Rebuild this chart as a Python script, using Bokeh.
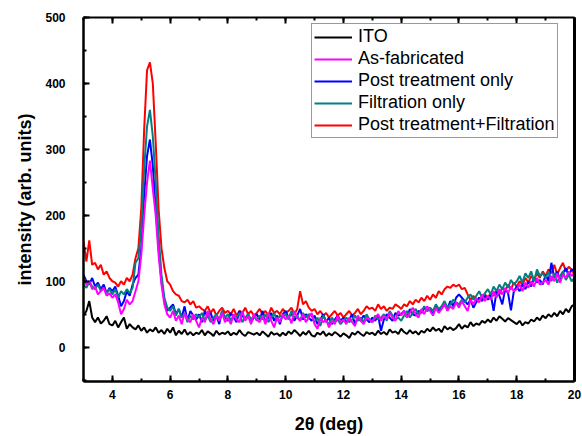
import numpy as np
from bokeh.plotting import figure
from bokeh.models import (Range1d, SingleIntervalTicker, LinearAxis, Legend, LegendItem)
from bokeh.embed import file_html
from bokeh.resources import INLINE

# 2-theta grid (deg), 0.1 deg step from 3.0 to 20.0
two_theta = np.round(np.arange(3.0, 20.0001, 0.1), 2)

ito = [
    48, 55, 70, 45, 38, 45, 36, 40, 47, 35,
    33, 40, 30, 38, 45, 28, 35, 30, 27, 33,
    25, 30, 22, 27, 24, 30, 22, 26, 20, 28,
    22, 30, 18, 25, 20, 27, 19, 23, 18, 22,
    20, 26, 18, 24, 21, 17, 25, 19, 22, 20,
    24, 18, 22, 19, 26, 20, 17, 23, 21, 19,
    22, 18, 24, 20, 16, 23, 19, 21, 17, 22,
    18, 24, 20, 26, 22, 17, 23, 19, 25, 18,
    16, 22, 19, 24, 17, 21, 18, 23, 20, 16,
    21, 18, 14, 22, 19, 24, 20, 17, 23, 20,
    22, 18, 25, 20, 23, 19, 27, 22, 24, 20,
    28, 23, 20, 26, 21, 24, 19, 25, 22, 28,
    24, 30, 25, 28, 23, 32, 27, 30, 26, 29,
    35, 28, 33, 30, 38, 32, 36, 34, 40, 37,
    42, 38, 45, 40, 47, 43, 39, 44, 41, 38,
    35, 40, 33, 38, 36, 42, 39, 45, 41, 48,
    44, 50, 46, 52, 47, 55, 50, 58, 53, 62,
    65,
]

as_fabricated = [
    105, 95, 100, 88, 92, 80, 85, 90, 78, 82,
    75, 80, 68, 50, 58, 72, 65, 70, 85, 100,
    140, 200, 250, 283, 240, 200, 140, 95, 65, 50,
    45, 55, 40, 48, 35, 52, 42, 38, 50, 40,
    30, 45, 38, 55, 42, 35, 48, 40, 52, 38,
    45, 35, 50, 42, 38, 55, 40, 47, 35, 50,
    42, 38, 48, 35, 52, 40, 30, 45, 38, 50,
    42, 48, 36, 55, 45, 40, 50, 38, 45, 52,
    35, 28, 45, 38, 42, 30, 40, 35, 48, 38,
    42, 35, 45, 38, 32, 48, 40, 35, 45, 42,
    38, 45, 50, 40, 48, 42, 52, 45, 40, 55,
    48, 55, 45, 52, 60, 50, 45, 58, 50, 62,
    55, 48, 60, 52, 58, 65, 55, 62, 58, 68,
    60, 70, 62, 55, 72, 65, 75, 68, 80, 70,
    78, 72, 85, 75, 88, 80, 90, 82, 92, 85,
    88, 95, 85, 98, 90, 100, 92, 105, 95, 98,
    102, 95, 108, 100, 112, 98, 110, 105, 115, 108,
    112,
]

post_treatment = [
    110, 100, 95, 105, 92, 98, 88, 95, 82, 90,
    85, 92, 78, 62, 70, 85, 78, 95, 105, 110,
    150, 230, 290, 315, 275, 210, 150, 100, 70, 55,
    60, 65, 50, 58, 45, 62, 40, 55, 48, 42,
    50, 38, 55, 45, 52, 40, 48, 35, 55, 45,
    40, 52, 45, 38, 55, 48, 42, 50, 38, 45,
    50, 42, 55, 38, 45, 52, 40, 48, 35, 50,
    55, 45, 52, 40, 48, 58, 42, 50, 45, 40,
    48, 35, 42, 50, 38, 45, 35, 42, 48, 40,
    45, 38, 42, 50, 35, 45, 40, 48, 42, 38,
    45, 40, 48, 25, 42, 50, 45, 40, 52, 48,
    50, 55, 45, 58, 50, 48, 55, 52, 60, 55,
    58, 50, 62, 55, 60, 65, 58, 70, 62, 75,
    80, 75, 70, 65, 72, 60, 68, 75, 70, 78,
    72, 80, 55, 85, 78, 65, 88, 82, 56, 85,
    92, 85, 95, 88, 100, 92, 105, 98, 102, 95,
    110, 100, 128, 105, 115, 100, 112, 120, 108, 118,
    115,
]

filtration = [
    95, 90, 100, 92, 88, 95, 85, 90, 82, 88,
    80, 88, 75, 85, 80, 88, 82, 90, 128, 135,
    180, 270, 335, 360, 320, 250, 170, 110, 75, 60,
    55, 62, 48, 58, 45, 52, 38, 48, 42, 50,
    45, 52, 40, 48, 38, 45, 50, 42, 55, 45,
    50, 40, 48, 45, 52, 38, 45, 50, 42, 48,
    40, 48, 42, 50, 38, 45, 52, 40, 48, 45,
    50, 42, 55, 45, 48, 40, 52, 45, 50, 48,
    38, 45, 32, 48, 40, 35, 45, 38, 42, 35,
    40, 45, 38, 42, 48, 40, 45, 38, 50, 42,
    38, 48, 42, 45, 50, 40, 55, 48, 42, 45,
    40, 48, 55, 45, 52, 58, 50, 55, 62, 55,
    60, 55, 65, 58, 62, 70, 60, 65, 72, 68,
    65, 72, 68, 75, 80, 72, 78, 85, 75, 82,
    88, 80, 92, 85, 95, 88, 98, 90, 102, 95,
    100, 108, 98, 112, 105, 115, 100, 118, 108, 112,
    105, 115, 100, 112, 98, 108, 115, 102, 110, 100,
    105,
]

post_filtration = [
    160, 130, 162, 125, 128, 118, 125, 110, 115, 105,
    100, 98, 92, 100, 95, 105, 100, 110, 135, 150,
    210, 330, 420, 432, 400, 310, 210, 150, 120, 100,
    95, 85, 80, 78, 70, 68, 72, 65, 70, 60,
    62, 58, 55, 62, 52, 58, 48, 55, 60, 52,
    55, 50, 58, 48, 55, 52, 60, 50, 55, 48,
    52, 58, 50, 55, 48, 60, 52, 55, 50, 58,
    52, 55, 60, 50, 58, 85, 65, 70, 60, 55,
    58, 50, 55, 48, 52, 45, 50, 55, 48, 52,
    45, 50, 55, 48, 52, 58, 50, 55, 62, 58,
    60, 55, 65, 58, 62, 55, 60, 58, 65, 62,
    58, 65, 62, 70, 65, 72, 68, 75, 70, 78,
    72, 80, 75, 85, 80, 88, 92, 90, 95, 92,
    95, 88, 90, 80, 72, 78, 70, 75, 72, 80,
    75, 82, 78, 85, 80, 90, 85, 95, 88, 98,
    92, 100, 95, 105, 98, 108, 102, 112, 105, 115,
    108, 118, 112, 125, 110, 120, 128, 115, 122, 118,
    110,
]

series_names = ["ITO", "As-fabricated", "Post treatment only",
                "Filtration only", "Post treatment+Filtration"]
series_colors = ["#000000", "#FF00FF", "#0000FF", "#008080", "#FF0000"]
series_data = [ito, as_fabricated, post_treatment, filtration, post_filtration]

x_ticks_interval = 2
y_ticks_interval = 100

FONT = "Liberation Sans"

p = figure(frame_width=491, frame_height=364,
           min_border_left=83, min_border_right=8,
           min_border_top=17, min_border_bottom=55,
           x_range=Range1d(3, 20), y_range=Range1d(-52, 500),
           output_backend="svg", toolbar_location=None,
           x_axis_location=None, y_axis_location=None)
p.grid.visible = False
p.outline_line_color = None
p.background_fill_color = "white"
p.border_fill_color = "white"

# draw order: red, blue, teal, magenta, black
renderers = {}
for idx in [4, 2, 3, 1, 0]:
    r = p.line(two_theta, series_data[idx], line_color=series_colors[idx], line_width=2)
    renderers[idx] = r

def style_axis(ax, labels=True, ticks=True):
    ax.axis_line_width = 2.5
    ax.axis_line_color = "black"
    ax.major_tick_line_width = 2
    ax.minor_tick_line_width = 2
    ax.major_tick_line_color = "black" if ticks else None
    ax.minor_tick_line_color = "black" if ticks else None
    ax.major_tick_out = 0
    ax.major_tick_in = 6
    ax.minor_tick_out = 0
    ax.minor_tick_in = 3
    if labels:
        ax.major_label_text_font = FONT
        ax.major_label_text_font_style = "bold"
        ax.major_label_text_font_size = "12px"
        ax.major_label_text_color = "black"
        ax.axis_label_text_font = FONT
        ax.axis_label_text_font_style = "bold"
        ax.axis_label_text_font_size = "18px"
        ax.axis_label_text_color = "black"
    else:
        # labels are not drawn at all
        ax.major_label_text_color = None
        ax.major_label_text_font_size = "1px"
        ax.major_label_standoff = 0

xt = SingleIntervalTicker(interval=x_ticks_interval, num_minor_ticks=2)
yt = SingleIntervalTicker(interval=y_ticks_interval, num_minor_ticks=2)

xaxis = LinearAxis(ticker=xt, axis_label="2θ (deg)")
style_axis(xaxis)
xaxis.major_label_standoff = 8
xaxis.axis_label_standoff = 12
p.add_layout(xaxis, "below")

yaxis = LinearAxis(ticker=yt, axis_label="intensity (arb. units)")
style_axis(yaxis)
yaxis.major_label_standoff = 18
yaxis.axis_label_standoff = 7
p.add_layout(yaxis, "left")

top_axis = LinearAxis(ticker=SingleIntervalTicker(interval=x_ticks_interval, num_minor_ticks=2))
style_axis(top_axis, labels=False)
top_axis.axis_line_width = 2
p.add_layout(top_axis, "above")

right_axis = LinearAxis(ticker=SingleIntervalTicker(interval=y_ticks_interval, num_minor_ticks=2))
style_axis(right_axis, labels=False, ticks=False)
right_axis.axis_line_width = 3
p.add_layout(right_axis, "right")

items = [LegendItem(label=series_names[i], renderers=[renderers[i]]) for i in range(5)]
legend = Legend(items=items, location=(228, 243))
legend.label_text_font = FONT
legend.label_text_font_size = "18px"
legend.label_text_color = "black"
legend.glyph_width = 38
legend.glyph_height = 20
legend.label_height = 20
legend.label_standoff = 6
legend.spacing = 1
legend.padding = 2
legend.margin = 0
legend.border_line_color = "#333333"
legend.border_line_width = 1
legend.background_fill_color = "white"
legend.background_fill_alpha = 1
p.add_layout(legend, "center")

open("out.html", "w").write(file_html(p, INLINE))
